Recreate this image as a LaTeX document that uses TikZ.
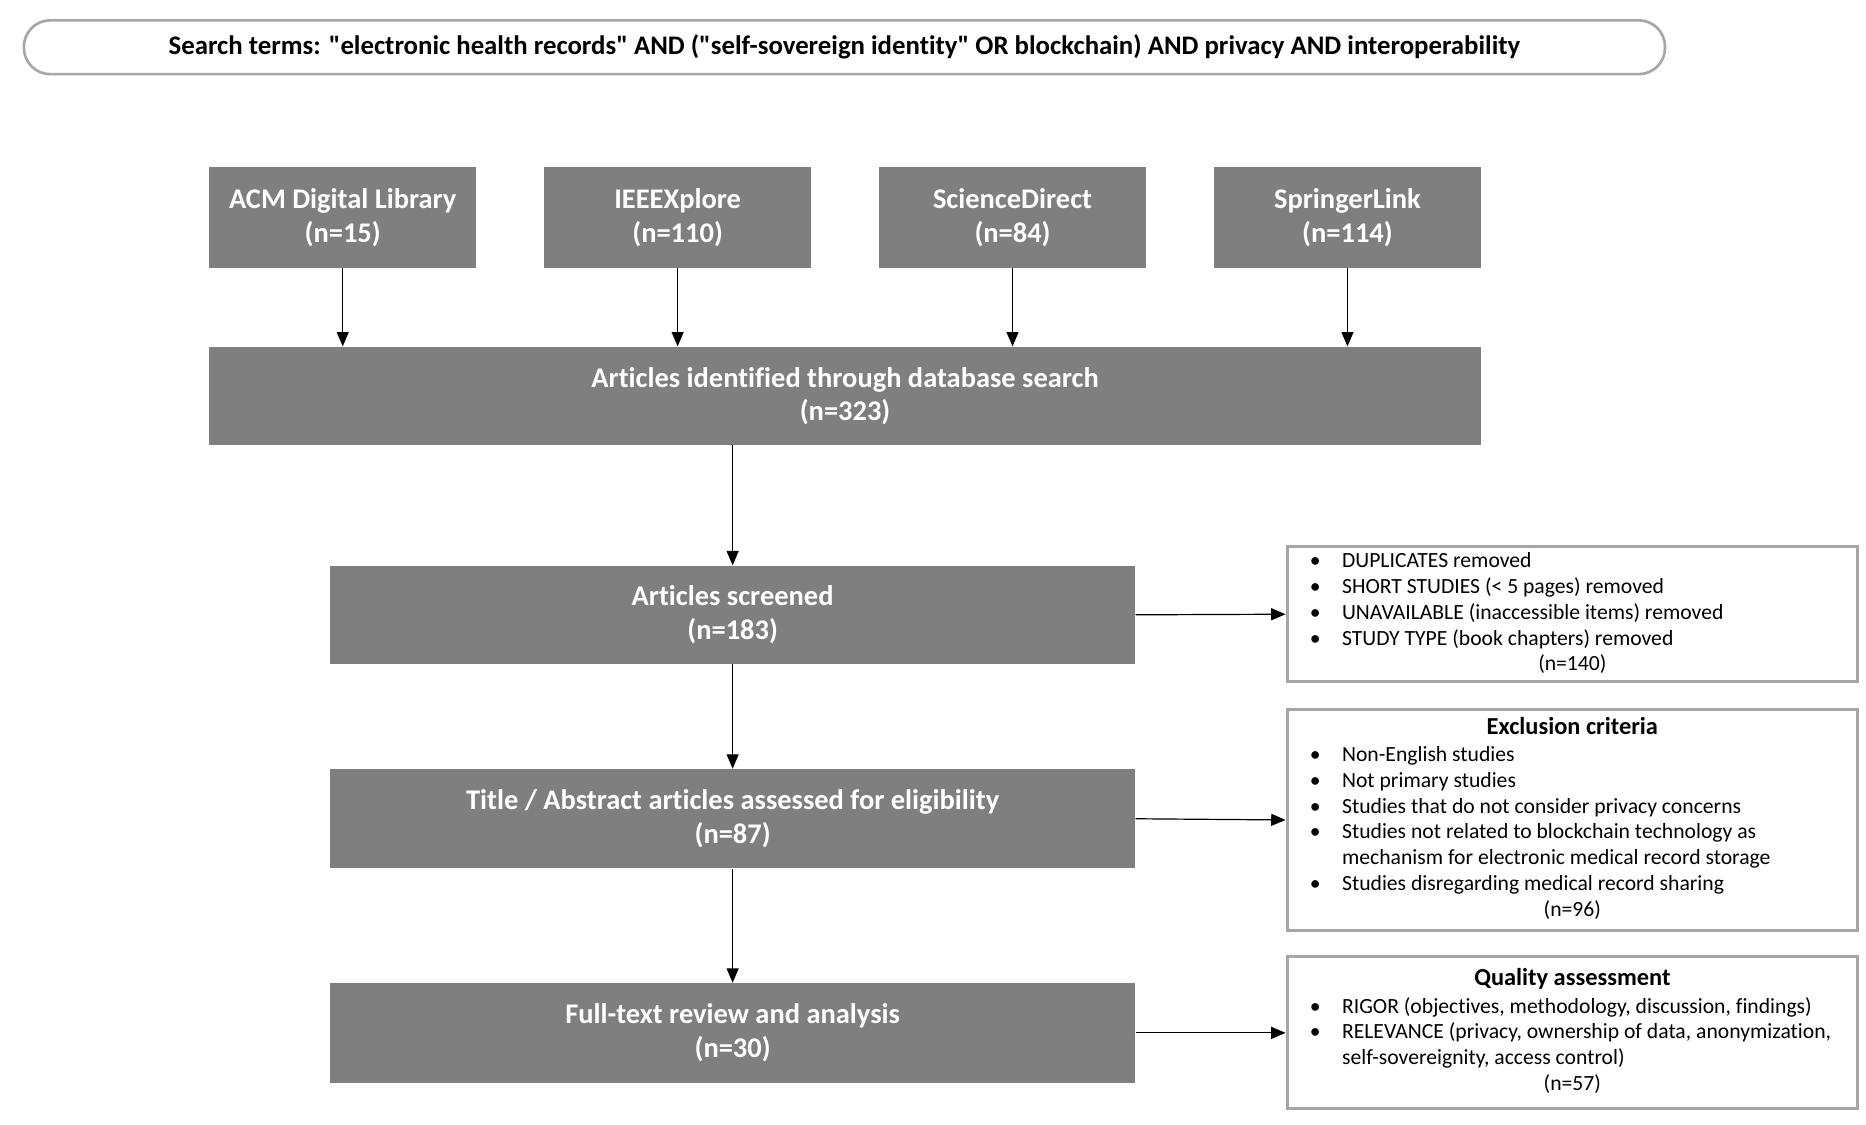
\documentclass[tikz,border=0pt]{standalone}
\usepackage{fontspec}
\setmainfont{Carlito}[Ligatures={TeXOff,NoCommon}]
\usetikzlibrary{arrows.meta}
\definecolor{boxgray}{HTML}{7F7F7F}
\definecolor{linegray}{HTML}{A6A6A6}
\begin{document}
\begin{tikzpicture}[x=0.5pt,y=-0.5pt,
 gbox/.style={fill=boxgray, draw=none, text=white, font=\fontsize{11.9}{14}\selectfont\bfseries, align=center, inner sep=0pt},
 sbox/.style={draw=linegray, line width=1.25pt, fill=white, inner xsep=9.5pt, inner ysep=0pt, minimum width=238.5pt, font=\fontsize{9.05}{10.75}\selectfont},
 arr/.style={-{Triangle[length=6pt,width=5pt]}, line width=0.5pt}]
\useasboundingbox (0,0) rectangle (1560,940.5);
\fill[white] (0,0) rectangle (1560,940.5);
\node[draw=linegray, line width=1.1pt, rounded corners=11pt, minimum width=686pt, minimum height=22.5pt, inner sep=0pt, font=\fontsize{11.2}{13}\selectfont\bfseries] (search) at (706,39.5) {Search terms: "electronic health records" AND ("self-sovereign identity" OR blockchain) AND privacy AND interoperability};

\node[gbox, minimum width=111.5pt, minimum height=42pt] (acm) at (286.5,182) {ACM Digital Library\\(n=15)};
\node[gbox, minimum width=111.5pt, minimum height=42pt] (ieee) at (566.5,182) {IEEEXplore\\(n=110)};
\node[gbox, minimum width=111.5pt, minimum height=42pt] (sd) at (846.5,182) {ScienceDirect\\(n=84)};
\node[gbox, minimum width=111.5pt, minimum height=42pt] (sl) at (1126.5,182) {SpringerLink\\(n=114)};

\node[gbox, minimum width=531.5pt, minimum height=41pt] (ident) at (706.5,331) {Articles identified through database search\\(n=323)};
\node[gbox, minimum width=336.5pt, minimum height=41pt] (scr) at (612.5,514) {Articles screened\\(n=183)};
\node[gbox, minimum width=336.5pt, minimum height=41.5pt] (title) at (612.5,684.5) {Title / Abstract articles assessed for eligibility\\(n=87)};
\node[gbox, minimum width=336.5pt, minimum height=41.5pt] (full) at (612.5,863.5) {Full-text review and analysis\\(n=30)};

\node[sbox, minimum height=56.5pt] (dup) at (1314.5,513.5) {\begin{tabular}{@{}p{13.5pt}@{}p{206pt}@{}}
\textbullet & DUPLICATES removed\\
\textbullet & SHORT STUDIES (< 5 pages) removed\\
\textbullet & UNAVAILABLE (inaccessible items) removed\\
\textbullet & STUDY TYPE (book chapters) removed\\
\multicolumn{2}{@{}c@{}}{(n=140)}
\end{tabular}};

\node[sbox, minimum height=92.5pt] (excl) at (1314.5,685.5) {\begin{tabular}{@{}p{13.5pt}@{}p{206pt}@{}}
\multicolumn{2}{@{}c@{}}{\fontsize{10.2}{11}\selectfont\bfseries Exclusion criteria}\\[0.75pt]
\textbullet & Non-English studies\\
\textbullet & Not primary studies\\
\textbullet & Studies that do not consider privacy concerns\\
\textbullet & Studies not related to blockchain technology as\\
 & mechanism for electronic medical record storage\\
\textbullet & Studies disregarding medical record sharing\\
\multicolumn{2}{@{}c@{}}{(n=96)}
\end{tabular}};

\node[sbox, minimum height=63.5pt] (qual) at (1314.5,863.5) {\begin{tabular}{@{}p{13.5pt}@{}p{206pt}@{}}
\multicolumn{2}{@{}c@{}}{\fontsize{10.2}{11}\selectfont\bfseries Quality assessment}\\[0.75pt]
\textbullet & RIGOR (objectives, methodology, discussion, findings)\\
\textbullet & RELEVANCE (privacy, ownership of data, anonymization,\\
 & self-sovereignity, access control)\\
\multicolumn{2}{@{}c@{}}{(n=57)}
\end{tabular}};

\foreach \n in {acm,ieee,sd,sl} \draw[arr] (\n.south) -- (\n.south |- ident.north);
\draw[arr] (scr.north |- ident.south) -- (scr.north);
\draw[arr] (scr.south) -- (title.north);
\draw[arr] (title.south) -- (full.north);
\draw[arr] (scr.east) -- (dup.west);
\draw[arr] (title.east) -- (excl.west);
\draw[arr] (full.east) -- (qual.west);
\end{tikzpicture}
\end{document}
